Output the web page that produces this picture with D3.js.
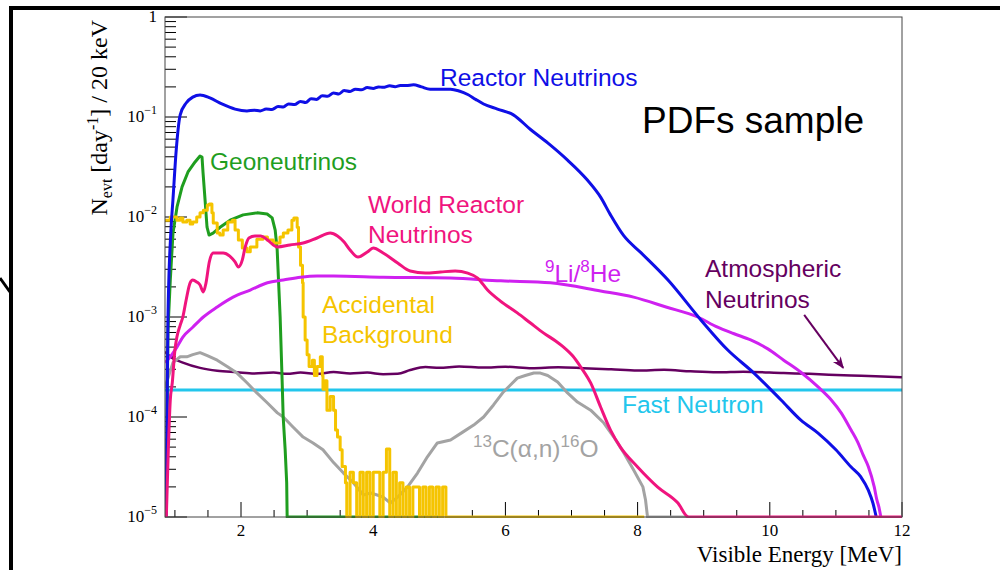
<!DOCTYPE html>
<html>
<head>
<meta charset="utf-8">
<script src="https://cdn.jsdelivr.net/npm/d3@7"></script>
<style>
  body { margin: 0; background: #fff; }
  svg { display: block; }
</style>
</head>
<body>
<svg id="chart" width="1000" height="570"></svg>
<script>
// ---------------- data (visible energy in MeV, events per day per 20 keV) ----------------
const reactorE = [0.865,0.88,0.895,0.94,0.97,1.02,1.08,1.17,1.27,1.38,1.53,1.71,1.91,2.09,2.2,2.29,2.38,2.47,2.56,2.64,2.72,2.81,2.9,2.98,3.06,3.14,3.23,3.31,3.4,3.48,3.56,3.65,3.73,3.82,3.91,4.0,4.08,4.15,4.25,4.33,4.41,4.5,4.61,4.73,4.86,5.0,5.17,5.3,5.43,5.55,5.67,5.88,6.12,6.38,6.64,6.94,7.24,7.44,7.59,7.79,8.05,8.46,8.96,9.36,9.76,10.17,10.47,10.73,11.0,11.23,11.38,11.49,11.56,11.61];
const reactorN = [1e-5,9.3e-5,1e-3,7.4e-3,1.48e-2,4.7e-2,0.105,0.138,0.158,0.166,0.155,0.135,0.120,0.115,0.117,0.115,0.12,0.119,0.127,0.126,0.135,0.133,0.143,0.14,0.152,0.15,0.163,0.161,0.174,0.17,0.184,0.18,0.19,0.187,0.197,0.193,0.2,0.198,0.205,0.201,0.207,0.206,0.21,0.2,0.19,0.19,0.19,0.182,0.168,0.15,0.135,0.12,0.105,0.075,0.055,0.037,0.0234,0.0158,0.0105,0.0065,0.0044,0.00234,9.3e-4,4.7e-4,2.75e-4,1.48e-4,9.3e-5,6.9e-5,4.7e-5,3.16e-5,2.5e-5,1.86e-5,1.38e-5,1e-5];

const geoE = [0.865,0.88,0.895,0.93,0.971,1.032,1.108,1.198,1.305,1.38,1.41,1.426,1.456,1.486,1.517,1.577,1.683,1.835,2.032,2.244,2.395,2.471,2.517,2.547,2.592,2.623,2.638,2.668,2.691,2.698,5.0];
const geoN = [1e-5,9.3e-5,7.4e-4,2.34e-3,6.9e-3,0.0126,0.02,0.0282,0.0355,0.0407,0.0398,0.0275,0.0148,0.0079,0.0066,0.0069,0.0079,0.0093,0.0105,0.011,0.0107,0.0098,0.0074,0.0047,1e-3,2.2e-4,1e-4,4.7e-5,2.2e-5,1e-5,1e-5];

const worldE = [0.87,0.90,0.93,0.96,1.00,1.03,1.08,1.12,1.17,1.23,1.27,1.33,1.38,1.43,1.47,1.52,1.58,1.65,1.73,1.83,1.91,1.96,2.02,2.06,2.12,2.21,2.30,2.40,2.55,2.74,2.94,3.15,3.35,3.46,3.56,3.65,3.77,3.91,4.0,4.15,4.37,4.56,4.79,5.02,5.24,5.43,5.58,5.73,5.92,6.18,6.38,6.58,6.76,6.88,7.02,7.14,7.29,7.44,7.59,7.74,8.0,8.30,8.61,8.77,12.0];
const worldN = [1e-5,4.68e-5,1.48e-4,2.19e-4,4.68e-4,6.3e-4,8.3e-4,1e-3,1.48e-3,2.19e-3,2.34e-3,2.24e-3,2.09e-3,1.78e-3,2.19e-3,3.55e-3,4.37e-3,4.37e-3,4.37e-3,4.07e-3,3.55e-3,3.16e-3,3.72e-3,4.9e-3,6.17e-3,6.46e-3,6.46e-3,5.89e-3,5.01e-3,5.25e-3,5.5e-3,6.17e-3,6.92e-3,6.46e-3,5.62e-3,4.68e-3,3.98e-3,4.47e-3,4.9e-3,4.37e-3,3.47e-3,2.88e-3,2.75e-3,2.82e-3,2.88e-3,2.75e-3,2.45e-3,1.86e-3,1.45e-3,1.1e-3,8.7e-4,6.9e-4,5.75e-4,5.0e-4,4.07e-4,3.16e-4,2.19e-4,1.26e-4,7.4e-5,5.0e-5,3.16e-5,2.0e-5,1.38e-5,1e-5,1e-5];

const accidentalE = [0.85,0.93,1.03,1.08,1.12,1.18,1.23,1.27,1.33,1.38,1.43,1.49,1.52,1.56,1.58,1.64,1.68,1.73,1.80,1.87,1.91,1.96,2.02,2.09,2.14,2.24,2.33,2.40,2.49,2.59,2.64,2.71,2.77,2.80,2.85,2.87,2.90,2.93,2.94,2.97,3.0,3.03,3.08,3.11,3.15,3.20,3.23,3.24,3.27,3.30,3.35,3.40,3.43,3.46,3.50,3.53,3.58,3.6,3.65,3.7,3.75,3.8,3.85,3.9,3.95,4.0,4.05,4.1,4.15,4.2,4.25,4.3,4.35,4.4,4.45,4.5,4.55,4.6,4.65,4.7,4.75,4.8,4.85,4.9,4.95,5.0,5.05,5.1,8.1];
const accidentalN = [9.3e-3,0.01,9.3e-3,9.8e-3,8.9e-3,9.3e-3,8.5e-3,8.9e-3,0.01,0.011,0.0117,0.0132,0.0135,0.011,8.7e-3,6.9e-3,6.6e-3,7.4e-3,8.9e-3,9.3e-3,7.4e-3,5.9e-3,4.9e-3,4.5e-3,5.0e-3,6.0e-3,6.3e-3,5.9e-3,5.5e-3,6.3e-3,6.9e-3,7.4e-3,9.3e-3,9.8e-3,7.9e-3,5.0e-3,3.3e-3,2.2e-3,1e-3,5.9e-4,4.2e-4,3.2e-4,3.7e-4,2.6e-4,3.2e-4,4.0e-4,2.6e-4,1.9e-4,2.3e-4,1.17e-4,1.6e-4,1.17e-4,7.4e-5,6.3e-5,4.7e-5,3.2e-5,2.2e-5,1e-5,2.8e-5,2.2e-5,1e-5,2.8e-5,1e-5,2.8e-5,1e-5,2.8e-5,2.8e-5,1e-5,2.8e-5,4.8e-5,1e-5,2.8e-5,1e-5,2.2e-5,1e-5,2e-5,1e-5,2e-5,2e-5,1e-5,2e-5,1e-5,2e-5,1e-5,2e-5,1e-5,2e-5,1e-5,1e-5];

const lithiumE = [0.85,0.93,1.03,1.12,1.27,1.43,1.64,1.88,2.14,2.40,2.64,2.90,3.15,3.40,4.15,5.17,5.93,6.68,7.44,7.94,8.43,8.91,9.21,9.46,9.71,9.97,10.21,10.47,10.73,10.93,11.08,11.23,11.33,11.41,11.49,11.58,11.62,11.65,11.68];
const lithiumN = [3.5e-4,4.0e-4,5.0e-4,6.3e-4,7.9e-4,1e-3,1.26e-3,1.58e-3,1.86e-3,2.2e-3,2.34e-3,2.5e-3,2.57e-3,2.57e-3,2.5e-3,2.45e-3,2.3e-3,2.2e-3,1.82e-3,1.58e-3,1.26e-3,1e-3,7.9e-4,6.8e-4,5.9e-4,4.8e-4,3.7e-4,2.8e-4,2.0e-4,1.48e-4,1.1e-4,7.4e-5,5.6e-5,4.2e-5,3.2e-5,2.0e-5,1.48e-5,1.26e-5,1e-5];

const atmosE = [0.85,0.93,1.12,1.38,1.64,1.94,2.2,2.49,2.7,2.90,3.15,3.40,3.65,3.91,4.15,4.37,4.56,4.79,5.0,5.3,5.67,6.0,6.4,6.8,7.18,7.6,8.0,8.4,8.8,9.21,9.6,10.21,10.6,11.23,11.6,12.0];
const atmosN = [4.5e-4,4.0e-4,3.5e-4,3.1e-4,2.9e-4,2.8e-4,2.72e-4,2.78e-4,2.7e-4,2.78e-4,2.7e-4,2.82e-4,2.72e-4,2.78e-4,2.68e-4,2.7e-4,2.95e-4,3.16e-4,3.1e-4,3.2e-4,3.12e-4,3.18e-4,3.08e-4,3.14e-4,3.08e-4,3.0e-4,2.92e-4,2.96e-4,2.86e-4,2.8e-4,2.84e-4,2.75e-4,2.7e-4,2.6e-4,2.56e-4,2.5e-4];

const fastNeutronE = [0.85, 12.0];
const fastNeutronN = [1.86e-4, 1.86e-4];

const carbonE = [0.85,0.90,0.97,1.08,1.18,1.27,1.38,1.49,1.64,1.79,1.94,2.09,2.24,2.40,2.55,2.64,2.79,2.94,3.09,3.24,3.40,3.55,3.70,3.85,3.96,4.06,4.15,4.26,4.37,4.52,4.67,4.82,4.97,5.17,5.36,5.52,5.67,5.82,5.97,6.08,6.18,6.30,6.43,6.53,6.64,6.79,6.94,7.09,7.29,7.49,7.64,7.79,7.94,8.08,8.12,8.15,8.77];
const carbonN = [2.0e-4,2.5e-4,3.5e-4,4.0e-4,4.0e-4,4.2e-4,4.4e-4,4.1e-4,3.7e-4,3.2e-4,2.75e-4,2.2e-4,1.74e-4,1.38e-4,1.1e-4,1e-4,7.9e-5,6.3e-5,5.5e-5,4.7e-5,3.5e-5,2.75e-5,2.2e-5,1.66e-5,1.74e-5,1.66e-5,1.58e-5,1.38e-5,1.58e-5,2.0e-5,2.75e-5,4.0e-5,5.5e-5,5.9e-5,7.1e-5,8.3e-5,1e-4,1.32e-4,1.78e-4,2.1e-4,2.45e-4,2.6e-4,2.75e-4,2.75e-4,2.6e-4,2.24e-4,1.74e-4,1.41e-4,1.17e-4,8.7e-5,6.3e-5,4.4e-5,2.95e-5,2.0e-5,1.48e-5,1e-5,1e-5];

// axis ticks
const xTickLabels = [2, 4, 6, 8, 10, 12];
const yDecades = [1e-5, 1e-4, 1e-3, 1e-2, 1e-1, 1];
const yTickLabels = ["10|−5", "10|−4", "10|−3", "10|−2", "10|−1", "1"];

// ---------------- layout ----------------
const svg = d3.select("#chart");
const L = 165, R = 902, T = 17, B = 517;
const x = d3.scaleLinear().domain([0.85, 12]).range([L, R]);
const y = d3.scaleLog().domain([1e-5, 1]).range([B, T]);

const sans = "'Liberation Sans', Arial, Helvetica, sans-serif";
const serif = "'Liberation Serif', 'Times New Roman', Times, serif";

// outer black border
svg.append("line").attr("x1", 9).attr("x2", 1000).attr("y1", 8).attr("y2", 8)
  .attr("stroke", "#000").attr("stroke-width", 4);
svg.append("line").attr("x1", 11).attr("x2", 11).attr("y1", 6).attr("y2", 570)
  .attr("stroke", "#000").attr("stroke-width", 4);
svg.append("line").attr("x1", 0).attr("x2", 10).attr("y1", 278).attr("y2", 292)
  .attr("stroke", "#000").attr("stroke-width", 3);

// clip to the frame
svg.append("defs").append("clipPath").attr("id", "plotClip")
  .append("rect").attr("x", L).attr("y", T - 2).attr("width", R - L).attr("height", B - T + 3);

svg.select("defs").append("marker")
  .attr("id", "arrowHead").attr("viewBox", "0 0 10 10").attr("refX", 9).attr("refY", 5)
  .attr("markerWidth", 6).attr("markerHeight", 6).attr("markerUnits", "strokeWidth")
  .attr("orient", "auto")
  .append("path").attr("d", "M0,1 L10,5 L0,9 L3,5 Z").attr("fill", "#660060");

// ---------------- ticks ----------------
const axisG = svg.append("g");
d3.range(1, 12.001, 0.5).forEach(v => {
  const major = Math.abs(v - Math.round(v / 2) * 2) < 1e-6;
  axisG.append("line").attr("x1", x(v)).attr("x2", x(v))
    .attr("y1", B).attr("y2", B - (major ? 15 : 7))
    .attr("stroke", "#000").attr("stroke-width", 1);
});
yDecades.forEach(d => {
  axisG.append("line").attr("x1", L).attr("x2", L + 22).attr("y1", y(d)).attr("y2", y(d))
    .attr("stroke", "#000").attr("stroke-width", 1);
  if (d < 1) {
    for (let k = 2; k <= 9; k++) {
      axisG.append("line").attr("x1", L).attr("x2", L + 11)
        .attr("y1", y(k * d)).attr("y2", y(k * d))
        .attr("stroke", "#000").attr("stroke-width", 1);
    }
  }
});

xTickLabels.forEach(v => {
  axisG.append("text").attr("x", x(v)).attr("y", B + 19)
    .attr("text-anchor", "middle").attr("font-family", serif).attr("font-size", 17)
    .text(v);
});
yDecades.forEach((d, i) => {
  const parts = yTickLabels[i].split("|");
  const t = axisG.append("text").attr("x", 157).attr("y", y(d) + 5)
    .attr("text-anchor", "end").attr("font-family", serif).attr("font-size", 17);
  t.append("tspan").text(parts[0]);
  if (parts[1]) t.append("tspan").attr("dy", -8).attr("font-size", 12).text(parts[1]);
});

// axis titles
svg.append("text").attr("x", R).attr("y", 562).attr("text-anchor", "end")
  .attr("font-family", serif).attr("font-size", 23).text("Visible Energy [MeV]");

const yt = svg.append("text").attr("transform", "translate(107,20) rotate(-90)")
  .attr("text-anchor", "end").attr("font-family", serif).attr("font-size", 24);
yt.append("tspan").text("N");
yt.append("tspan").attr("dy", 5).attr("font-size", 16).text("evt");
yt.append("tspan").attr("dy", -5).text(" [day");
yt.append("tspan").attr("dy", -9).attr("font-size", 16).text("-1");
yt.append("tspan").attr("dy", 9).text("] / 20 keV");

// ---------------- curves ----------------
const plot = svg.append("g").attr("clip-path", "url(#plotClip)");
const clampY = d => y(Math.max(d[1], 1e-5));
const lineGen = d3.line().x(d => x(d[0])).y(clampY);
const smoothGen = d3.line().x(d => x(d[0])).y(clampY).curve(d3.curveMonotoneX);
const stepGen = d3.line().x(d => x(d[0])).y(clampY).curve(d3.curveStepAfter);

const series = [
  { e: fastNeutronE, n: fastNeutronN, color: "#22c6ec", w: 3, gen: lineGen },
  { e: atmosE, n: atmosN, color: "#650060", w: 2.5, gen: smoothGen },
  { e: carbonE, n: carbonN, color: "#a3a3a3", w: 3, gen: lineGen },
  { e: geoE, n: geoN, color: "#1f9e1f", w: 3, gen: lineGen },
  { e: accidentalE, n: accidentalN, color: "#f5c400", w: 3, gen: stepGen },
  { e: lithiumE, n: lithiumN, color: "#cf21f0", w: 3, gen: smoothGen },
  { e: reactorE, n: reactorN, color: "#0f0fe6", w: 3, gen: smoothGen },
  { e: worldE, n: worldN, color: "#f0147e", w: 3, gen: smoothGen }
];
series.forEach(s => {
  plot.append("path").datum(s.e.map((v, i) => [v, s.n[i]]))
    .attr("d", s.gen).attr("fill", "none")
    .attr("stroke", s.color).attr("stroke-width", s.w)
    .attr("stroke-linejoin", "round");
});

// frame
svg.append("rect").attr("x", L).attr("y", T).attr("width", R - L).attr("height", B - T)
  .attr("fill", "none").attr("stroke", "#444").attr("stroke-width", 1);

// ---------------- annotations ----------------
function label(tx, ty, color, size, parts) {
  const t = svg.append("text").attr("x", tx).attr("y", ty)
    .attr("font-family", sans).attr("font-size", size).attr("fill", color);
  parts.forEach(p => {
    const ts = t.append("tspan").text(p.t);
    if (p.dy) ts.attr("dy", p.dy);
    if (p.fs) ts.attr("font-size", p.fs);
  });
  return t;
}
const fs = 24.5;
label(440, 86, "#0f0fe6", fs, [{ t: "Reactor Neutrinos" }]);
label(642, 133, "#000", 37, [{ t: "PDFs sample" }]);
label(210, 170, "#1f9e1f", fs, [{ t: "Geoneutrinos" }]);
label(368, 213, "#f0147e", fs, [{ t: "World Reactor" }]);
label(368, 243, "#f0147e", fs, [{ t: "Neutrinos" }]);
label(322, 313, "#f5c400", fs, [{ t: "Accidental" }]);
label(322, 343, "#f5c400", fs, [{ t: "Background" }]);
label(545, 282, "#cf21f0", fs, [
  { t: "9", dy: -10, fs: 17 }, { t: "Li/", dy: 10 }, { t: "8", dy: -10, fs: 17 }, { t: "He", dy: 10 }
]);
label(705, 277, "#650060", fs, [{ t: "Atmospheric" }]);
label(705, 308, "#650060", fs, [{ t: "Neutrinos" }]);
label(622, 413, "#22c6ec", fs, [{ t: "Fast Neutron" }]);
label(473, 457, "#a3a3a3", fs, [
  { t: "13", dy: -10, fs: 17 }, { t: "C(α,n)", dy: 10 }, { t: "16", dy: -10, fs: 17 }, { t: "O", dy: 10 }
]);

// arrow pointing at the atmospheric curve
svg.append("line")
  .attr("x1", x(10.52)).attr("y1", y(1.05e-3))
  .attr("x2", x(11.11)).attr("y2", y(3.1e-4))
  .attr("stroke", "#660060").attr("stroke-width", 2)
  .attr("marker-end", "url(#arrowHead)");
</script>
</body>
</html>
